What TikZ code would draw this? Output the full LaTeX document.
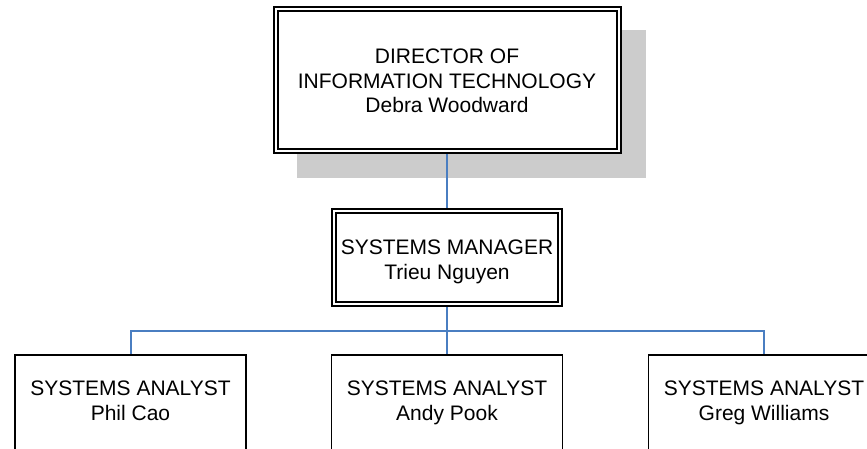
\documentclass[tikz,border=0pt]{standalone}
\usepackage{fontspec}
\setmainfont{Liberation Sans}
\usetikzlibrary{backgrounds,calc}
\definecolor{linkblue}{RGB}{74,126,193}
\definecolor{shadowgray}{RGB}{204,204,204}
\tikzset{
  box/.style={draw=black, fill=white, rectangle, inner sep=0pt, line width=1.8pt},
  frame/.style={draw=black, line width=1.4pt},
  caption/.style={inner sep=0pt, anchor=north, align=center,
    font=\fontsize{21pt}{24.5pt}\selectfont},
  link/.style={draw=linkblue, line width=2pt},
  shade/.style={fill=shadowgray},
}
\begin{document}
\begin{tikzpicture}[x=1pt,y=-1pt]
\useasboundingbox (0,0) rectangle (867,448);
\clip (0,0) rectangle (867,448);

% director box with double frame
\node[box, line width=2.2pt, minimum width=347pt, minimum height=146pt] (dir) at (447.5,80) {};
\draw[frame, line width=1.6pt] ([shift={(5,5)}]dir.north west) rectangle ([shift={(-5,-5)}]dir.south east);

% manager box with double frame
\node[box, line width=2pt, minimum width=230pt, minimum height=97pt] (mgr) at (447,257.5) {};
\draw[frame] ([shift={(5,5)}]mgr.north west) rectangle ([shift={(-5,-5)}]mgr.south east);

% analyst boxes
\node[box, anchor=north, minimum width=231pt, minimum height=130pt] (an1) at (130.5,354) {};
\node[box, anchor=north, minimum width=231pt, minimum height=130pt] (an2) at (447,354) {};
\node[box, anchor=north, minimum width=231pt, minimum height=130pt] (an3) at (764,354) {};

% shadow behind the director box
\begin{scope}[on background layer]
  \fill[shade] ([shift={(24,24)}]dir.north west) rectangle ([shift={(24,24)}]dir.south east);
\end{scope}

% captions
\node[caption] (dir-t) at (447,49) {DIRECTOR OF\\INFORMATION TECHNOLOGY\\Debra Woodward};
\node[caption] (mgr-t) at (447,240) {SYSTEMS MANAGER\\Trieu Nguyen};
\node[caption] (an1-t) at (130.5,381) {SYSTEMS ANALYST\\Phil Cao};
\node[caption] (an2-t) at (447,381) {SYSTEMS ANALYST\\Andy Pook};
\node[caption] (an3-t) at (764,381) {SYSTEMS ANALYST\\Greg Williams};

% connectors
\coordinate (bus) at ($(mgr.south)+(0,24)$);
\draw[link] (mgr.north |- dir.south) -- (mgr.north);
\draw[link] (mgr.south) -- (an2.north);
\draw[link] (an1.north) |- (bus) -| (an3.north);
\end{tikzpicture}
\end{document}
